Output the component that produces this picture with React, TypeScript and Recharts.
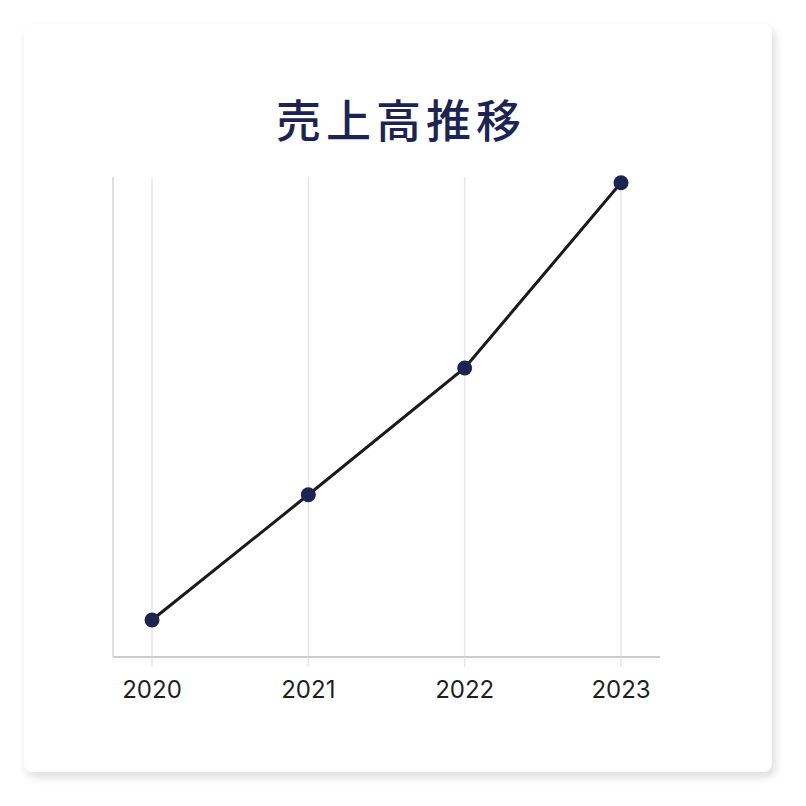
import { Line, LineChart, ReferenceLine, XAxis, YAxis } from "recharts";

const years = ["2020", "2021", "2022", "2023"];
const sales = [7.7, 33.8, 60.2, 98.8];

const data = years.map((year, i) => ({ year, sales: sales[i] }));

export default function App() {
  return (
    <div
      style={{
        position: "fixed",
        left: 0,
        top: 0,
        width: 806,
        height: 806,
        background: "#fff",
        overflow: "hidden"
      }}
    >
      <div
        style={{
          position: "absolute",
          left: 24,
          top: 24,
          width: 748,
          height: 748,
          background: "#fff",
          borderRadius: 8,
          boxShadow: "3px 5px 10px rgba(0,0,0,0.14)"
        }}
      />
      <div
        style={{
          position: "absolute",
          left: -2,
          top: 87,
          width: 806,
          textAlign: "center",
          fontFamily: '"Noto Sans CJK JP", sans-serif',
          fontWeight: 500,
          fontSize: 45,
          letterSpacing: 5,
          color: "#1e2452",
          lineHeight: "64px"
        }}
      >
        売上高推移
      </div>
      <div style={{ position: "absolute", left: 0, top: 0 }}>
        <LineChart
          width={806}
          height={806}
          data={data}
          margin={{ top: 177, left: 112, right: 146, bottom: 119 }}
        >
          {years.map((y) => (
            <ReferenceLine key={y} x={y} stroke="#e8e8e8" strokeWidth={1.5} />
          ))}
          <XAxis
            dataKey="year"
            height={30}
            padding={{ left: 39, right: 39 }}
            stroke="#cccccc"
            strokeWidth={2}
            tickSize={10}
            tickMargin={14}
            tickLine={{ stroke: "#e6e6e6", strokeWidth: 1.5 }}
            tick={{ fill: "#1f1f1f", fontSize: 24, fontFamily: "Inter, sans-serif" }}
          />
          <YAxis
            width={1}
            domain={[0, 100]}
            tick={false}
            tickLine={false}
            stroke="#d4d4d4"
            strokeWidth={1.5}
          />
          <Line
            dataKey="sales"
            type="linear"
            stroke="#1a1a1a"
            strokeWidth={3}
            dot={{ fill: "#1e2452", stroke: "none", r: 7.5 }}
            isAnimationActive={false}
          />
        </LineChart>
      </div>
    </div>
  );
}
